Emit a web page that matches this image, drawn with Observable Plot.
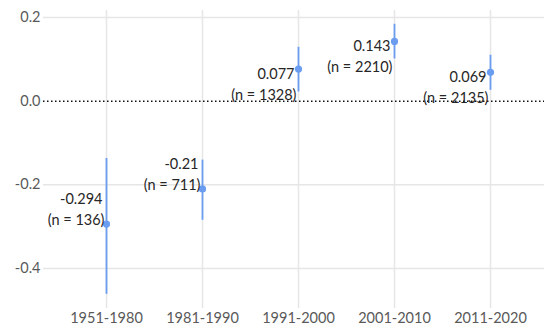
<!DOCTYPE html>
<html>
<head>
<meta charset="utf-8">
<script src="https://cdn.jsdelivr.net/npm/d3@7"></script>
<script src="https://cdn.jsdelivr.net/npm/@observablehq/plot@0.6"></script>
<style>
  html, body { margin: 0; padding: 0; background: #fff; }
  #chart svg { display: block; }
</style>
</head>
<body>
<div id="chart"></div>
<script>
// Decades and the estimated effect for each, with its interval and sample size
const periods = ["1951-1980", "1981-1990", "1991-2000", "2001-2010", "2011-2020"];
const estimates = [-0.294, -0.21, 0.077, 0.143, 0.069];
const lowerBounds = [-0.462, -0.285, 0.022, 0.101, 0.026];
const upperBounds = [-0.137, -0.141, 0.129, 0.184, 0.110];
const sampleSizes = [136, 711, 1328, 2210, 2135];
const yTicks = [0.2, 0, -0.2, -0.4];

const rows = periods.map((p, i) => ({
  period: p,
  est: estimates[i],
  lo: lowerBounds[i],
  hi: upperBounds[i],
  n: sampleSizes[i]
}));
const negative = rows.filter(d => d.est < 0);
const positive = rows.filter(d => d.est >= 0);

const font = "Lato, 'Liberation Sans', sans-serif";
const blue = "#6a9cf0";
const grid = "#e6e6e6";
const ink = "#262626";

// two-line label left of the point: above it for negative values, below for positive ones
const labelMarks = (data, offset) => [
  Plot.text(data, {
    x: "period", y: "est", text: d => String(d.est),
    textAnchor: "end", dx: -4, dy: offset, fill: ink, fontSize: 14.5
  }),
  Plot.text(data, {
    x: "period", y: "est", text: d => `(n = ${d.n})`,
    textAnchor: "end", dx: -2, dy: offset + 21, fill: ink, fontSize: 14.5
  })
];

const chart = Plot.plot({
  width: 544,
  height: 328,
  marginTop: 10,
  marginBottom: 20,
  marginLeft: 43,
  marginRight: 0,
  style: { fontFamily: font, fontSize: "14px", background: "#fff" },
  x: { type: "point", domain: periods, padding: 0.5, insetLeft: 14, insetRight: 5, label: null },
  y: { domain: [-0.496, 0.217], label: null },
  marks: [
    // horizontal gridlines across the full frame
    Plot.ruleY(yTicks.filter(d => d !== 0), { stroke: grid, strokeWidth: 1.5 }),
    // vertical gridlines at each period
    Plot.ruleX(periods, { x: d => d, stroke: grid, strokeWidth: 1.5 }),
    // dotted zero reference
    Plot.ruleY([0], { stroke: "#111", strokeWidth: 1.5, strokeDasharray: "1.5,2.5" }),
    Plot.axisY(yTicks, {
      tickSize: 0, tickPadding: 3, tickFormat: d => d.toFixed(1),
      fill: "#595959", fontSize: 14.5, label: null
    }),
    Plot.axisX({
      tickSize: 0, tickPadding: 4, fill: "#595959", fontSize: 14.5, label: null
    }),
    // interval bars and point estimates
    Plot.ruleX(rows, { x: "period", y1: "lo", y2: "hi", stroke: blue, strokeWidth: 1.8 }),
    Plot.dot(rows, { x: "period", y: "est", r: 3.6, fill: blue }),
    ...labelMarks(negative, -25),
    ...labelMarks(positive, 5)
  ]
});

document.getElementById("chart").append(chart);
</script>
</body>
</html>
